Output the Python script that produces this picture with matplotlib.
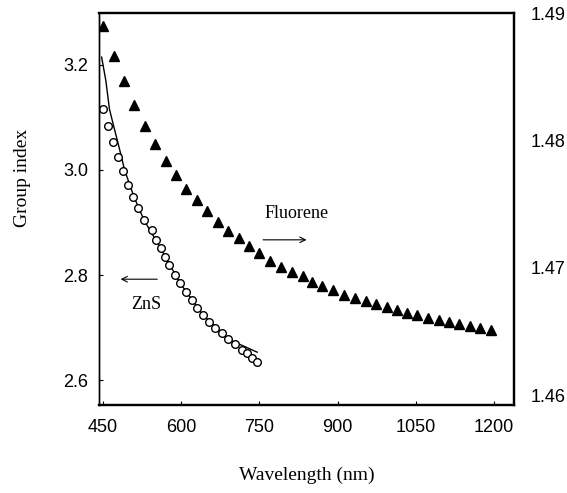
import matplotlib
matplotlib.use("Agg")
import matplotlib.pyplot as plt

# Fluorene group index (right axis)
fl_wl = [450, 471, 490, 510, 531, 550, 571, 590, 610, 631, 650, 671, 690, 712,
         731, 750, 771, 792, 812, 833, 852, 871, 892, 912, 933, 954, 973, 994,
         1013, 1033, 1052, 1073, 1094, 1113, 1133, 1154, 1173, 1194]
fl_n = [1.48898, 1.48663, 1.48468, 1.48280, 1.48115, 1.47974, 1.47841, 1.47731,
        1.47622, 1.47528, 1.47442, 1.47356, 1.47285, 1.47230, 1.47168, 1.47113,
        1.47050, 1.47003, 1.46964, 1.46933, 1.46886, 1.46854, 1.46823, 1.46784,
        1.46760, 1.46737, 1.46713, 1.46690, 1.46666, 1.46643, 1.46627, 1.46604,
        1.46588, 1.46572, 1.46557, 1.46541, 1.46525, 1.46510]

# ZnS measured group index (left axis)
zns_wl = [450, 460, 470, 479, 489, 498, 508, 517, 529, 544, 552, 562, 569, 577,
          589, 598, 610, 621, 631, 642, 654, 665, 679, 690, 704, 717, 727, 737, 746]
zns_g = [3.116, 3.084, 3.053, 3.025, 2.998, 2.971, 2.949, 2.928, 2.905, 2.886,
         2.867, 2.851, 2.834, 2.819, 2.800, 2.785, 2.768, 2.752, 2.737, 2.724,
         2.710, 2.699, 2.690, 2.678, 2.669, 2.657, 2.651, 2.642, 2.634]

# ZnS fit curve
fit_wl = [448, 456, 463, 471, 479, 486, 492, 510, 529, 561, 598, 642, 690, 746]
fit_g = [3.215, 3.171, 3.116, 3.084, 3.053, 3.025, 3.000, 2.949, 2.905, 2.851,
         2.785, 2.724, 2.678, 2.653]

x_ticks = [450, 600, 750, 900, 1050, 1200]
left_ticks = [2.6, 2.8, 3.0, 3.2]
right_ticks = [1.46, 1.47, 1.48, 1.49]

serif = "Liberation Serif"
sans = "Liberation Sans"

fig = plt.figure(figsize=(5.67, 4.93), dpi=100)
ax = fig.add_axes([0.1746, 0.1785, 0.7319, 0.7951])
ax2 = ax.twinx()

ax.plot(fit_wl, fit_g, color="black", lw=1.0)
ax.plot(zns_wl, zns_g, "o", mfc="white", mec="black", ms=5.5, mew=1.0)
ax2.plot(fl_wl, fl_n, "^", color="black", ms=7)

ax.set_xlim(443, 1238)
ax.set_ylim(2.5524, 3.299)
ax2.set_ylim(1.45922, 1.48992)

ax.set_xticks(x_ticks)
ax.set_yticks(left_ticks)
ax.set_yticklabels([f"{v:.1f}" for v in left_ticks])
ax2.set_yticks(right_ticks)
ax2.set_yticklabels([f"{v:.2f}" for v in right_ticks])

ax.tick_params(axis="x", direction="in", length=3, pad=10, labelsize=13)
ax.tick_params(axis="y", direction="in", length=3, pad=8, labelsize=13)
ax2.tick_params(axis="y", direction="in", length=0, pad=12, labelsize=13)
for lab in ax.get_xticklabels() + ax.get_yticklabels() + ax2.get_yticklabels():
    lab.set_fontfamily(sans)

for a in (ax, ax2):
    for side in ("top", "bottom", "right"):
        a.spines[side].set_linewidth(1.6)
    a.spines["left"].set_linewidth(1.0)

ax.set_xlabel("Wavelength (nm)", fontsize=14, family=serif, labelpad=22)
ax.set_ylabel("Group index", fontsize=14, family=serif, labelpad=14)
ax.yaxis.set_label_coords(-0.165, 0.58)

ax.text(821, 2.918, "Fluorene", fontsize=13, family=serif, ha="center", va="center")
ax.annotate("", xy=(846, 2.867), xytext=(752, 2.867),
            arrowprops=dict(arrowstyle="->", color="black", lw=0.8))
ax.text(533, 2.743, "ZnS", fontsize=13, family=serif, ha="center", va="center")
ax.annotate("", xy=(479, 2.792), xytext=(560, 2.792),
            arrowprops=dict(arrowstyle="->", color="black", lw=0.8))

fig.savefig("out.png", dpi=100)
